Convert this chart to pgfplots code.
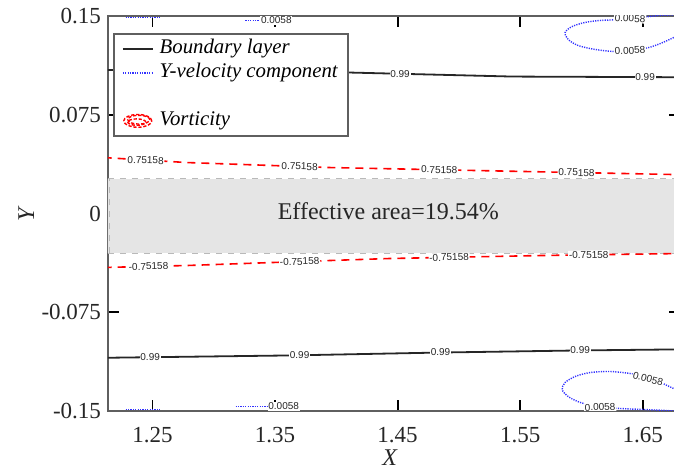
\documentclass[border=0pt]{standalone}
\usepackage{fontspec}
\setmainfont{Liberation Serif}
\newfontfamily\lsans{Liberation Sans}
\usepackage{pgfplots}
\pgfplotsset{compat=1.18}
\usetikzlibrary{calc}
\definecolor{bl}{RGB}{50,50,255}
\definecolor{rd}{RGB}{255,0,0}
\definecolor{axgray}{RGB}{95,95,95}
\pgfplotsset{
 shortline/.style={legend image code/.code={\draw (0pt,0pt) -- (15pt,0pt);}},
 vortimg/.style={legend image code/.code={
   \draw[rd, dash pattern=on 1.6pt off 0.9pt, line width=0.7pt] (7.5pt,0pt) ellipse (7pt and 3.2pt);
   \draw[rd, dash pattern=on 1.6pt off 0.9pt, line width=0.7pt] (8pt,0.6pt) ellipse (5.5pt and 2.2pt);
   \draw[rd, dash pattern=on 1.6pt off 0.9pt, line width=0.7pt] (7pt,-0.6pt) ellipse (4.5pt and 1.6pt);
 }},
}
\tikzset{clab/.style={font=\lsans\fontsize{5}{5.5}\selectfont, fill=white, inner sep=0.4pt, text=black!85}}
\begin{document}
\begin{tikzpicture}
\begin{axis}[name=ax, scale only axis, width=286pt, height=197.5pt,
 xmin=1.2136, xmax=1.6805, ymin=-0.15, ymax=0.15,
 xtick={1.25,1.35,1.45,1.55,1.65}, xticklabels={1.25,1.35,1.45,1.55,1.65},
 ytick={-0.15,-0.075,0,0.075,0.15}, yticklabels={-0.15,-0.075,0,0.075,0.15},
 tick align=inside, major tick length=5.5pt,
 tick style={black, line width=0.9pt},
 axis line style={axgray, line width=0.6pt},
 ticklabel style={font=\fontsize{11.5}{13}\selectfont, text=black!85},
 xticklabel style={yshift=-4.5pt},
 xlabel={\textit{X}}, ylabel={\textit{Y}},
 label style={font=\fontsize{12}{14}\selectfont, text=black!85},
 xlabel style={at={(axis description cs:0.493,-0.119)}, anchor=center},
 ylabel style={at={(axis description cs:-0.143,0.5)}, anchor=center},
 legend style={at={(axis description cs:0.0087,0.957)}, anchor=north west,
   draw=axgray, line width=0.9pt, fill=white,
   font=\itshape\fontsize{10.4}{12}\selectfont, inner xsep=4pt, inner ysep=2pt,
   nodes={inner sep=1pt, text height=7pt, text depth=2pt}, column sep=2pt, row sep=1pt},
 legend cell align=left,
]
% effective area
\addplot[fill=gray!20, draw=none, forget plot] coordinates {(1.20,-0.0302)(1.70,-0.0302)(1.70,0.0265)(1.20,0.0265)} -- cycle;
\addplot[gray!55, dashed, line width=0.5pt, forget plot] coordinates {(1.2136,0.0265)(1.70,0.0265)};
\addplot[gray!55, dashed, line width=0.5pt, forget plot] coordinates {(1.2136,-0.0302)(1.70,-0.0302)};
\addplot[gray!55, dashed, line width=0.5pt, forget plot] coordinates {(1.2150,-0.0302)(1.2150,0.0265)};
\node[font=\fontsize{12}{14}\selectfont, text=black!85] at (axis cs:1.4424,0.0015) {Effective area=19.54\%};
% vorticity
\addplot[rd, line width=0.8pt, dash pattern=on 4pt off 3pt, forget plot] coordinates {(1.2100,0.0425)(1.278,0.0387)(1.395,0.0349)(1.511,0.0327)(1.6805,0.0295)};
\addplot[rd, line width=0.8pt, dash pattern=on 4pt off 3pt, forget plot] coordinates {(1.2100,-0.0410)(1.278,-0.0395)(1.395,-0.0357)(1.443,-0.0342)(1.568,-0.0319)(1.6805,-0.0304)};
\node[clab, rotate=-1.5] at (axis cs:1.2443,0.0404) {0.75158};
\node[clab, rotate=-1.5] at (axis cs:1.370,0.0357) {0.75158};
\node[clab, rotate=-1.2] at (axis cs:1.484,0.0332) {0.75158};
\node[clab, rotate=-1.0] at (axis cs:1.596,0.0311) {0.75158};
\node[clab, rotate=1.5] at (axis cs:1.2467,-0.0402) {-0.75158};
\node[clab, rotate=1.5] at (axis cs:1.370,-0.0365) {-0.75158};
\node[clab, rotate=1.2] at (axis cs:1.492,-0.0333) {-0.75158};
\node[clab, rotate=1.0] at (axis cs:1.606,-0.0314) {-0.75158};
% boundary layer
\addplot[black!85, line width=0.9pt, forget plot] coordinates {(1.2100,0.1090)(1.409,0.1071)(1.544,0.1040)(1.6805,0.1035)};
\addplot[black!85, line width=0.9pt, forget plot] coordinates {(1.2100,-0.1096)(1.3625,-0.1078)(1.4848,-0.1056)(1.599,-0.1040)(1.6805,-0.1032)};
\node[clab] at (axis cs:1.452,0.1062) {0.99};
\node[clab] at (axis cs:1.652,0.1037) {0.99};
\node[clab] at (axis cs:1.248,-0.1091) {0.99};
\node[clab] at (axis cs:1.370,-0.1077) {0.99};
\node[clab] at (axis cs:1.485,-0.1056) {0.99};
\node[clab] at (axis cs:1.599,-0.1040) {0.99};
% y-velocity
\addplot[bl, line width=0.7pt, dash pattern=on 0.6pt off 0.6pt, smooth, forget plot] coordinates {
 (1.6805,0.1511)(1.6642,0.1504)(1.6479,0.1489)(1.6316,0.1473)(1.6153,0.1466)(1.6030,0.1451)(1.5924,0.1420)(1.5867,0.1375)(1.5892,0.1322)(1.5973,0.1276)(1.6112,0.1246)(1.6275,0.1230)(1.6438,0.1238)(1.6577,0.1268)(1.6683,0.1306)(1.6805,0.1359)};
\addplot[bl, line width=0.7pt, dash pattern=on 0.6pt off 0.6pt, smooth, forget plot] coordinates {
 (1.6805,-0.1352)(1.6683,-0.1299)(1.6560,-0.1246)(1.6397,-0.1215)(1.6234,-0.1200)(1.6071,-0.1208)(1.5949,-0.1238)(1.5867,-0.1284)(1.5843,-0.1337)(1.5892,-0.1390)(1.5990,-0.1435)(1.6136,-0.1466)(1.6316,-0.1481)(1.6520,-0.1489)(1.6683,-0.1496)(1.6805,-0.1504)};
\addplot[bl, line width=0.7pt, dash pattern=on 0.6pt off 0.6pt, forget plot] coordinates {(1.228,0.1490)(1.2565,0.1490)};
\addplot[bl, line width=0.7pt, dash pattern=on 0.6pt off 0.6pt, forget plot] coordinates {(1.3258,0.1466)(1.351,0.1466)};
\addplot[bl, line width=0.7pt, dash pattern=on 0.6pt off 0.6pt, forget plot] coordinates {(1.228,-0.1490)(1.2565,-0.1490)};
\addplot[bl, line width=0.7pt, dash pattern=on 0.6pt off 0.6pt, forget plot] coordinates {(1.3177,-0.1466)(1.357,-0.1466)};
\node[clab] at (axis cs:1.351,0.1466) {0.0058};
\node[clab] at (axis cs:1.357,-0.1466) {0.0058};
\node[clab, rotate=-3] at (axis cs:1.6397,0.1481) {0.0058};
\node[clab, rotate=3] at (axis cs:1.6397,0.1236) {0.0058};
\node[clab, rotate=-15] at (axis cs:1.6544,-0.1255) {0.0058};
\node[clab, rotate=2] at (axis cs:1.6153,-0.1470) {0.0058};
% legend
\addlegendimage{black!85, line width=0.9pt, shortline}
\addlegendentry{Boundary layer}
\addlegendimage{bl, line width=0.7pt, dash pattern=on 0.6pt off 0.6pt, shortline}
\addlegendentry{Y-velocity component}
\addlegendimage{empty legend}
\addlegendentry{\phantom{V}}
\addlegendimage{rd, vortimg}
\addlegendentry{Vorticity}
\end{axis}
\pgfresetboundingbox
\path ($(ax.south west)+(-54pt,-29.5pt)$) rectangle ($(ax.south west)+(283pt,205.5pt)$);
\end{tikzpicture}
\end{document}
